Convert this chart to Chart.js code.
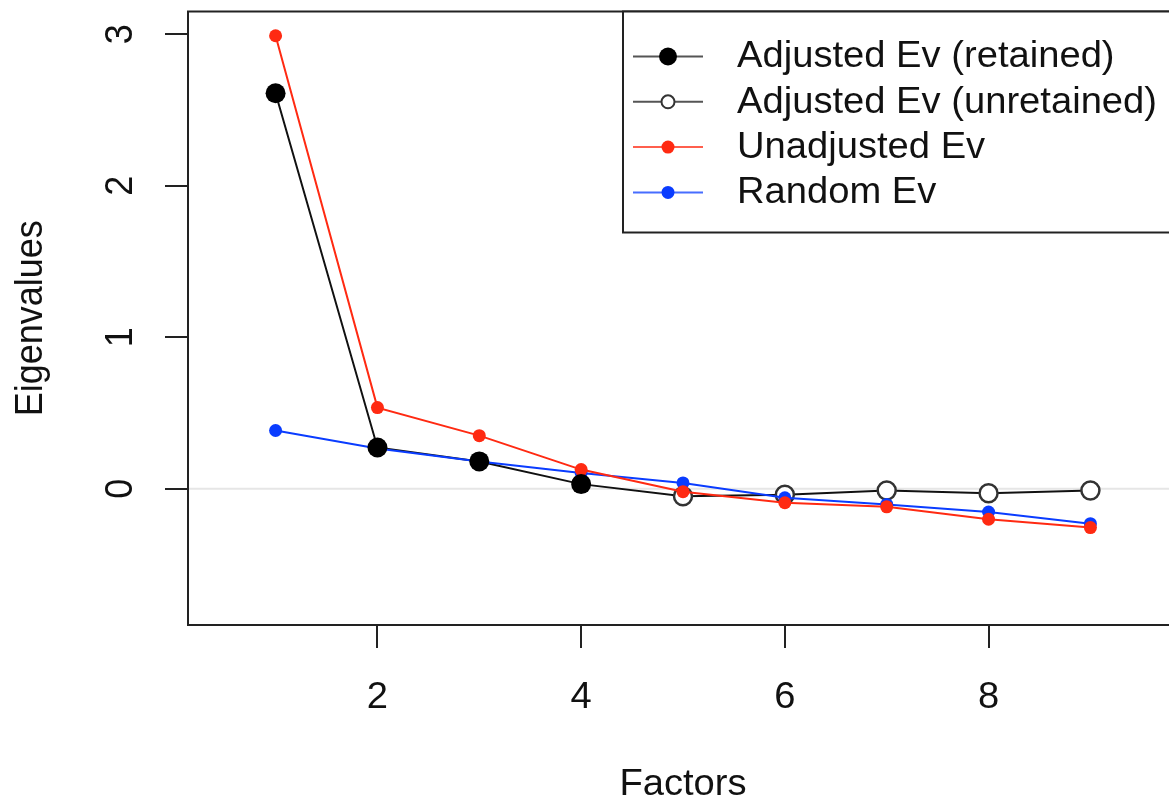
<!DOCTYPE html>
<html>
<head>
<meta charset="utf-8">
<script src="https://cdn.jsdelivr.net/npm/chart.js@4"></script>
<style>
  html, body { margin: 0; padding: 0; background: #fff; overflow: hidden; }
  #wrap { width: 1190px; height: 802px; }
</style>
</head>
<body>
<div id="wrap"><canvas id="myChart" width="1190" height="802"></canvas></div>
<script>
// dati (parallel analysis)
const factors = [1, 2, 3, 4, 5, 6, 7, 8, 9];
const adjustedEv = [2.61, 0.272, 0.18, 0.03, -0.05, -0.04, -0.012, -0.03, -0.012];
const unadjustedEv = [2.99, 0.535, 0.35, 0.126, -0.02, -0.093, -0.12, -0.202, -0.257];
const randomEv = [0.384, 0.265, 0.18, 0.104, 0.038, -0.06, -0.104, -0.154, -0.231];
const retained = 4;
const xTicks = [2, 4, 6, 8];
const yTicks = [0, 1, 2, 3];
const legendLabels = ["Adjusted Ev (retained)", "Adjusted Ev (unretained)", "Unadjusted Ev", "Random Ev"];

const RED = "#ff2a12";
const BLUE = "#0a3cff";
const FONT = "36px 'Liberation Sans', Arial, sans-serif";
const SX = 1.06; // testo un po' allargato come nell'immagine

const pts = function (vals) {
  return factors.map((f, i) => ({ x: f, y: vals[i] }));
};

// scritta con stretch orizzontale
const txt = function (ctx, s, x, y, rot) {
  ctx.save();
  ctx.translate(x, y);
  ctx.scale(SX, 1);
  if (rot) ctx.rotate(-Math.PI / 2);
  ctx.fillText(s, 0, 0);
  ctx.restore();
};

// assi, box e legenda stile R
const rAxes = {
  id: "rAxes",
  afterDraw(chart) {
    const ctx = chart.ctx;
    const a = chart.chartArea;
    const xs = chart.scales.x;
    const ys = chart.scales.y;
    ctx.save();
    ctx.strokeStyle = "#222";
    ctx.lineWidth = 2;
    ctx.strokeRect(a.left, a.top, a.right - a.left, a.bottom - a.top);

    ctx.fillStyle = "#111";
    ctx.font = FONT;
    // asse x
    ctx.beginPath();
    xTicks.forEach(t => {
      const px = Math.round(xs.getPixelForValue(t));
      ctx.moveTo(px, a.bottom);
      ctx.lineTo(px, a.bottom + 23);
    });
    ctx.stroke();
    ctx.textAlign = "center";
    ctx.textBaseline = "alphabetic";
    xTicks.forEach(t => {
      txt(ctx, String(t), xs.getPixelForValue(t), a.bottom + 83, false);
    });
    // asse y
    ctx.beginPath();
    yTicks.forEach(t => {
      const py = Math.round(ys.getPixelForValue(t));
      ctx.moveTo(a.left - 23, py);
      ctx.lineTo(a.left, py);
    });
    ctx.stroke();
    yTicks.forEach(t => {
      txt(ctx, String(t), a.left - 56, ys.getPixelForValue(t), true);
    });
    // titoli
    txt(ctx, "Factors", (a.left + a.right) / 2, 795, false);
    txt(ctx, "Eigenvalues", 42, (a.top + a.bottom) / 2, true);

    // legenda
    const lx = 623, ly = a.top, lw = a.right - lx, lh = 221;
    ctx.fillStyle = "#fff";
    ctx.fillRect(lx, ly, lw, lh);
    ctx.strokeStyle = "#222";
    ctx.strokeRect(lx, ly, lw, lh);
    const cols = ["#555", "#555", RED, BLUE];
    legendLabels.forEach((lab, i) => {
      const y = ly + 45 + i * 45.3;
      ctx.strokeStyle = cols[i];
      ctx.globalAlpha = i < 2 ? 1 : 0.75;
      ctx.lineWidth = 2;
      ctx.beginPath();
      ctx.moveTo(633, y);
      ctx.lineTo(703, y);
      ctx.stroke();
      ctx.globalAlpha = 1;
      ctx.beginPath();
      if (i === 0) {
        ctx.fillStyle = "#000";
        ctx.arc(668, y, 9, 0, Math.PI * 2);
        ctx.fill();
      } else if (i === 1) {
        ctx.fillStyle = "#fff";
        ctx.strokeStyle = "#333";
        ctx.arc(668, y, 6.5, 0, Math.PI * 2);
        ctx.fill();
        ctx.stroke();
      } else {
        ctx.fillStyle = i === 2 ? RED : BLUE;
        ctx.arc(668, y, 6.5, 0, Math.PI * 2);
        ctx.fill();
      }
      ctx.fillStyle = "#111";
      ctx.textAlign = "left";
      ctx.textBaseline = "middle";
      txt(ctx, lab, 737, y + 1, false);
    });
    ctx.restore();
  }
};

const chart = function () {
  const ctx = document.getElementById("myChart");
  const xMin = 0.14, xMax = 9.86;

  new Chart(ctx, {
    type: "line",
    data: {
      datasets: [
        {
          // linea grigia a zero (abline)
          data: [{ x: xMin, y: 0 }, { x: xMax, y: 0 }],
          borderColor: "#e6e6e6",
          borderWidth: 2,
          pointRadius: 0,
          order: 5,
        },
        {
          label: "Adjusted Ev (unretained)",
          data: pts(adjustedEv),
          borderColor: "#111",
          borderWidth: 2,
          pointRadius: factors.map((f, i) => (i < retained ? 0 : 9)),
          pointBackgroundColor: "#fff",
          pointBorderColor: "#333",
          pointBorderWidth: 2.5,
          order: 3,
        },
        {
          label: "Random Ev",
          data: pts(randomEv),
          borderColor: BLUE,
          borderWidth: 2,
          pointRadius: 6.5,
          pointBackgroundColor: BLUE,
          pointBorderWidth: 0,
          order: 2,
        },
        {
          label: "Unadjusted Ev",
          data: pts(unadjustedEv),
          borderColor: RED,
          borderWidth: 2,
          pointRadius: 6.5,
          pointBackgroundColor: RED,
          pointBorderWidth: 0,
          order: 1,
        },
        {
          label: "Adjusted Ev (retained)",
          data: pts(adjustedEv).slice(0, retained),
          showLine: false,
          pointRadius: 10,
          pointBackgroundColor: "#000",
          pointBorderWidth: 0,
          order: 0,
        },
      ],
    },
    options: {
      responsive: false,
      animation: false,
      devicePixelRatio: 1,
      layout: { padding: { left: 188, top: 8, right: 12, bottom: 177 } },
      scales: {
        x: { type: "linear", min: xMin, max: xMax, display: false },
        y: { type: "linear", min: -0.9, max: 3.15, display: false },
      },
      plugins: {
        legend: { display: false },
        tooltip: { enabled: false },
      },
      elements: { line: { tension: 0 } },
    },
    plugins: [rAxes],
  });
};
chart();
</script>
</body>
</html>
